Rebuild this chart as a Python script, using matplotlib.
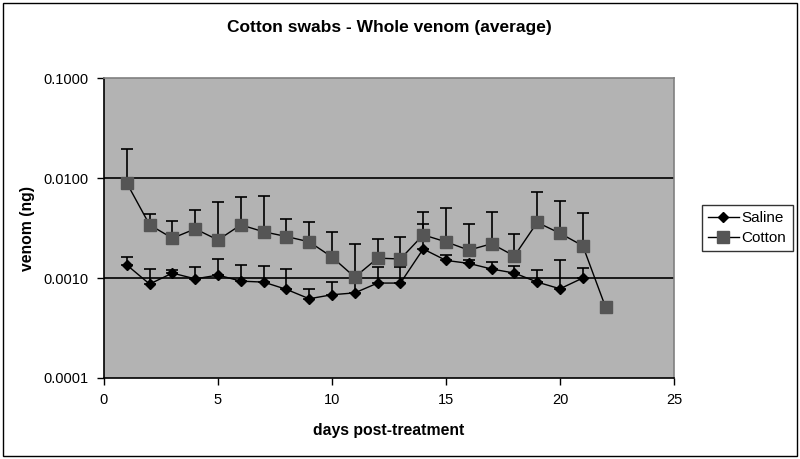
import matplotlib.pyplot as plt
from matplotlib.ticker import FixedLocator, FuncFormatter, NullLocator
from matplotlib.patches import Rectangle

plt.rcParams['font.family'] = ['Liberation Sans', 'DejaVu Sans']

# values
saline_days = [1, 2, 3, 4, 5, 6, 7, 8, 9, 10, 11, 12, 13, 14, 15, 16, 17, 18, 19, 20, 21]
saline_mean = [0.00135, 0.00087, 0.00112, 0.00098, 0.00107, 0.00093, 0.00091, 0.00077,
               0.00062, 0.00068, 0.00071, 0.00089, 0.00089, 0.00195, 0.00150, 0.00140,
               0.00123, 0.00112, 0.00091, 0.00078, 0.00100]
saline_top = [0.00162, 0.00123, 0.00120, 0.00130, 0.00155, 0.00135, 0.00132, 0.00123,
              0.00078, 0.00091, 0.00090, 0.00130, 0.00130, 0.00350, 0.00170, 0.00150,
              0.00145, 0.00132, 0.00120, 0.00150, 0.00126]

cotton_days = [1, 2, 3, 4, 5, 6, 7, 8, 9, 10, 11, 12, 13, 14, 15, 16, 17, 18, 19, 20, 21, 22]
cotton_mean = [0.0089, 0.0034, 0.0025, 0.0031, 0.0024, 0.0034, 0.0029, 0.0026, 0.0023,
               0.00162, 0.00102, 0.00158, 0.00155, 0.0027, 0.0023, 0.0019, 0.0022,
               0.00166, 0.0036, 0.0028, 0.0021, 0.00051]
cotton_top = [0.0195, 0.0044, 0.0037, 0.0048, 0.0058, 0.0065, 0.0066, 0.0039, 0.0036,
              0.0029, 0.0022, 0.00245, 0.00257, 0.0046, 0.0050, 0.0035, 0.0046,
              0.00275, 0.0072, 0.0059, 0.0045, None]

y_ticks = [0.0001, 0.001, 0.01, 0.1]
x_ticks = [0, 5, 10, 15, 20, 25]

fig = plt.figure(figsize=(8, 4.59), dpi=100)
ax = fig.add_axes([0.13, 0.1765, 0.7125, 0.6535])
ax.set_facecolor('#b3b3b3')


def up_err(mean, top):
    # upper-only error bars (no lower part)
    return [[0] * len(mean), [(t - m) if t is not None else 0 for m, t in zip(mean, top)]]


ax.errorbar(saline_days, saline_mean, yerr=up_err(saline_mean, saline_top), fmt='none',
            ecolor='black', elinewidth=1.2, capsize=4, capthick=1.2, zorder=3)
ax.errorbar(cotton_days, cotton_mean, yerr=up_err(cotton_mean, cotton_top), fmt='none',
            ecolor='black', elinewidth=1.2, capsize=4, capthick=1.2, zorder=3)

ax.plot(saline_days, saline_mean, color='black', linewidth=1, marker='D', markersize=5,
        markerfacecolor='black', markeredgecolor='black', label='Saline', zorder=4)
ax.plot(cotton_days, cotton_mean, color='black', linewidth=1, marker='s', markersize=9,
        markerfacecolor='#555555', markeredgecolor='#555555', label='Cotton', zorder=4)

ax.set_yscale('log')
ax.set_ylim(0.0001, 0.1)
ax.set_xlim(0, 25)
ax.yaxis.set_major_locator(FixedLocator(y_ticks))
ax.yaxis.set_minor_locator(NullLocator())
ax.yaxis.set_major_formatter(FuncFormatter(lambda v, p: f'{v:.4f}'))
ax.set_xticks(x_ticks)

# Excel-style gridlines
for v in [0.001, 0.01]:
    ax.axhline(v, color='black', linewidth=1.2, zorder=1)

for s in ax.spines.values():
    s.set_color('#808080')
    s.set_linewidth(1.2)
ax.spines['left'].set_color('black')
ax.spines['bottom'].set_color('black')

ax.tick_params(axis='both', labelsize=10.5, length=5, width=1, direction='out', pad=6)

ax.set_title('Cotton swabs - Whole venom (average)', fontsize=12.5, fontweight='bold', pad=33)
ax.set_xlabel('days post-treatment', fontsize=11.3, fontweight='bold', labelpad=11)
ax.set_ylabel('venom (ng)', fontsize=11.3, fontweight='bold', labelpad=6)

leg = ax.legend(loc='center left', bbox_to_anchor=(1.049, 0.5), frameon=True, fontsize=11,
                fancybox=False, edgecolor='black', borderpad=0.4, handlelength=2.0,
                labelspacing=0.4, handletextpad=0.2, borderaxespad=0)
leg.get_frame().set_linewidth(1)

# thin border around the whole chart area
fig.patches.append(Rectangle((0.004, 0.006), 0.992, 0.988, transform=fig.transFigure,
                             fill=False, edgecolor='black', linewidth=1))

fig.savefig('out.png', dpi=100)
